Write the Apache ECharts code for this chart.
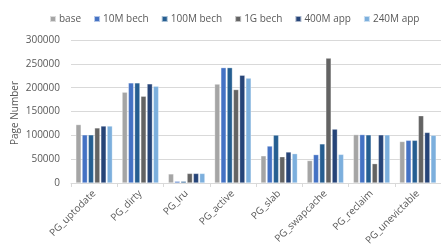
<!DOCTYPE html>
<html><head><meta charset="utf-8">
<script src="https://cdn.jsdelivr.net/npm/echarts@6/dist/echarts.min.js"></script>
<style>html,body{margin:0;padding:0;background:#fff}#c{width:441px;height:248px}</style>
</head><body><div id="c"></div>
<script>
const categories = ['PG_uptodate','PG_dirty','PG_lru','PG_active','PG_slab','PG_swapcache','PG_reclaim','PG_unevictable'];
const seriesNames = ['base','10M bech','100M bech','1G bech','400M app','240M app'];
const base      = [122500, 190500, 19000, 207500, 57000, 47000, 101500, 87000];
const bech10M   = [101000, 210000, 3500, 242000, 77500, 59500, 101500, 89500];
const bech100M  = [101000, 210000, 3500, 242000, 100500, 82000, 101000, 89500];
const bech1G    = [115500, 182000, 20000, 196000, 55000, 262000, 40500, 141000];
const app400M   = [119500, 208000, 20000, 226000, 65000, 113000, 101000, 106000];
const app240M   = [119500, 203000, 20000, 220000, 61500, 60000, 101000, 100000];
const yTicks = [0, 50000, 100000, 150000, 200000, 250000, 300000];
const yName = 'Page Number';
const colors = ['#a5a5a5','#4472c4','#255e91','#636363','#264478','#7cafdd'];
const values = [base, bech10M, bech100M, bech1G, app400M, app240M];
const font = 'Open Sans';
const chart = echarts.init(document.getElementById('c'), null, {renderer:'canvas'});
chart.setOption({
  animation:false,
  textStyle:{fontFamily:font},
  legend:{
    top:9, left:44, itemWidth:6, itemHeight:6, itemGap:12,
    icon:'rect',
    textStyle:{fontSize:10, color:'#595959', fontFamily:font, padding:[0,0,0,-2]},
    data:seriesNames
  },
  graphic:[{
    type:'text', x:15, y:113, rotation:Math.PI/2,
    style:{text:yName, fontSize:10, fill:'#595959', fontFamily:font, align:'center', verticalAlign:'middle'}
  }],
  grid:{left:71, top:40, bottom:62, right:-9, containLabel:false},
  xAxis:{
    type:'category', data:categories,
    axisLine:{lineStyle:{color:'#d9d9d9'}},
    axisTick:{show:true, length:4, lineStyle:{color:'#d9d9d9'}},
    axisLabel:{rotate:45, fontSize:10, color:'#595959', margin:9, fontFamily:font, interval:0}
  },
  yAxis:{
    type:'value', min:yTicks[0], max:yTicks[yTicks.length-1], interval:50000,
    axisLine:{show:false}, axisTick:{show:false},
    splitLine:{lineStyle:{color:'#d9d9d9'}},
    axisLabel:{fontSize:10, color:'#595959', margin:11, fontFamily:font, formatter:v=>String(v)}
  },
  series: seriesNames.map((n,i)=>({
    name:n, type:'bar', data:values[i],
    barGap:'18%', barCategoryGap:'21%',
    itemStyle:{color:colors[i], borderColor:'rgba(255,255,255,0.6)', borderWidth:0.5}
  }))
});
</script></body></html>
